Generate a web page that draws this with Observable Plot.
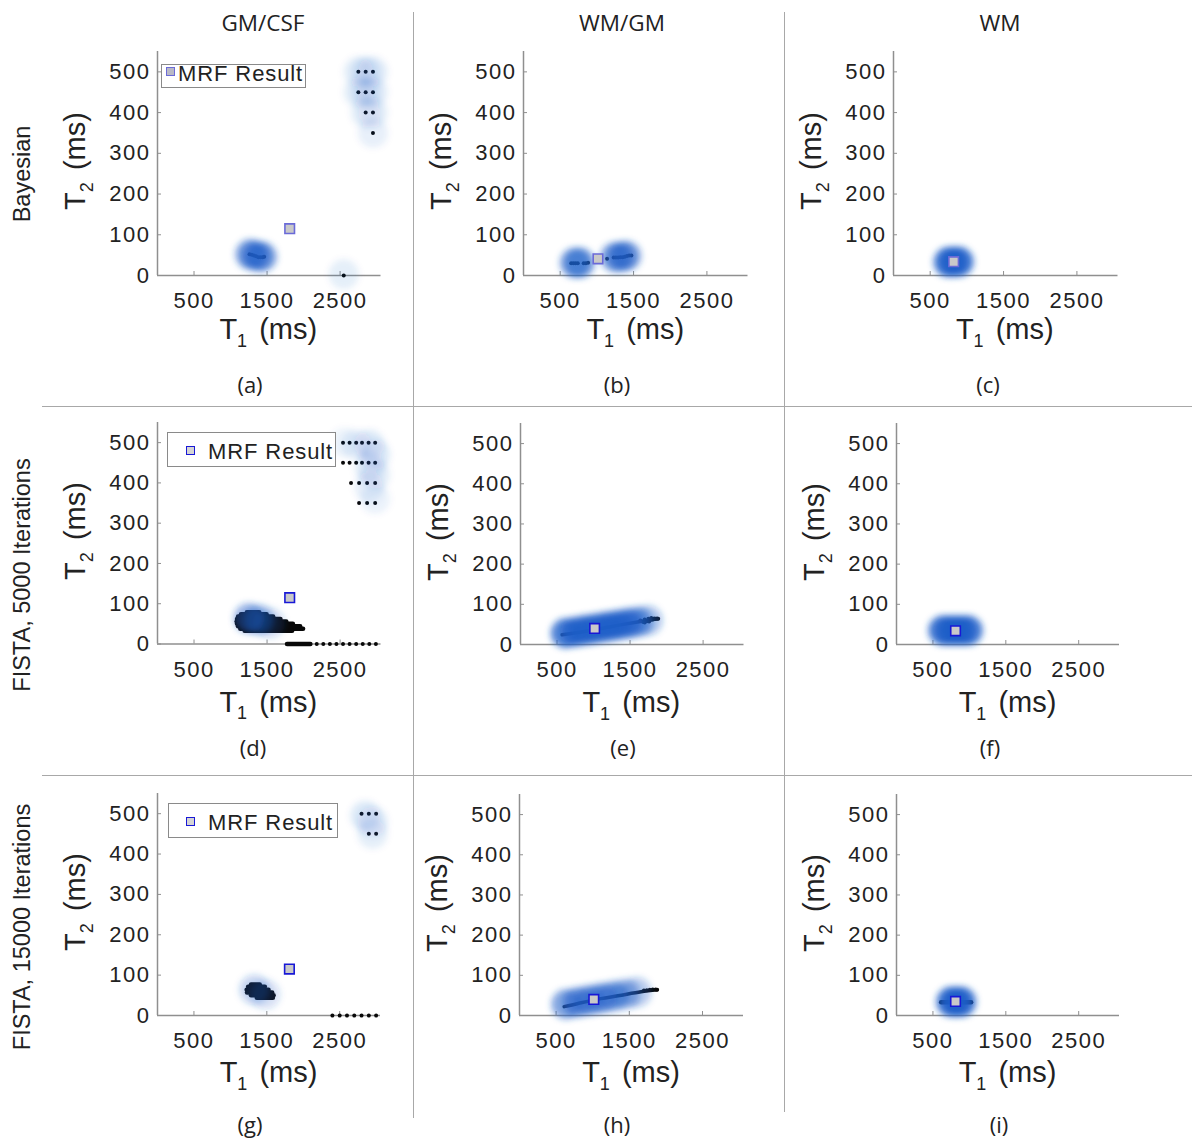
<!DOCTYPE html>
<html>
<head>
<meta charset="utf-8">
<script src="https://cdn.jsdelivr.net/npm/d3@7"></script>
<script src="https://cdn.jsdelivr.net/npm/@observablehq/plot@0.6"></script>
<style>
  body { margin: 0; background: #fff; }
  #fig { position: relative; width: 1192px; height: 1138px; overflow: hidden; background: #fff;
         font-family: "Liberation Sans", Arial, sans-serif; color: #222; }
  .abs { position: absolute; white-space: nowrap; }
  .sep { position: absolute; background: #a8a8a8; }
  .sub { font-size: 0.62em; position: relative; top: 0.42em; margin-right: 4px; }
  .legend { position: absolute; background: #fff; border: 1px solid #8a8a8a; box-sizing: border-box; }
  .lmark { position: absolute; box-sizing: border-box; background: #cfcfcf; }
</style>
</head>
<body>
<div id="fig"></div>
<script>
// ---------------- data ----------------
const xTicks = [500, 1500, 2500];
const yTicks = [0, 100, 200, 300, 400, 500];
const t1Domain = [0, 3060];
const t2Domain = [0, 550];
const columnTitles = ["GM/CSF", "WM/GM", "WM"];
const rowTitles = ["Bayesian", "FISTA, 5000 Iterations", "FISTA, 15000 Iterations"];
const panelLetters = ["(a)", "(b)", "(c)", "(d)", "(e)", "(f)", "(g)", "(h)", "(i)"];
const legendLabel = "MRF Result";
const xLabel = ["T", "1", "(ms)"];
const yLabel = ["T", "2", "(ms)"];

// (a) Bayesian, GM/CSF
const dotsA = [[1260,52],[1290,51],[1320,49],[1350,47],[1380,45],[1410,45],[1440,45],[1460,46],
  [2550,0],[2750,500],[2850,500],[2950,500],[2750,450],[2850,450],[2950,450],[2850,400],[2950,400],[2950,350]];
const haloA = [[1270,52,0.55],[1350,48,0.6],[1430,46,0.55],[2550,3,0.1],
  [2750,500,0.1],[2850,500,0.11],[2950,500,0.11],[2750,450,0.1],[2850,450,0.11],[2950,450,0.11],
  [2850,400,0.1],[2950,400,0.1],[2950,350,0.09]];
const mrfA = [1810, 115];

// (b) Bayesian, WM/GM
const dotsB = [[650,30],[680,30],[710,30],[740,30],[820,30],[850,30],[880,31],[1140,41],
  [1230,44],[1260,44],[1290,44],[1320,45],[1350,45],[1380,46],[1410,48],[1440,49],[1470,49]];
const haloB = [[700,31,0.55],[770,31,0.55],[1250,45,0.52],[1330,46,0.55],[1400,48,0.52]];
const mrfB = [1015, 41];

// (c) Bayesian, WM
const dotsC = [[800,34],[840,34]];
const haloC = [[750,33,0.75],[820,34,0.8],[890,34,0.75]];
const mrfC = [820, 34];

// (d) FISTA 5000, GM/CSF   bands: [T2, T1 from, T1 to]
const bandsD = [[79,1230,1400],[74,1150,1500],[68,1110,1590],[62,1095,1690],[56,1090,1770],
  [50,1095,1860],[44,1110,1960],[38,1140,2000],[33,1200,1850],[0,1780,2100]];
const dotsD = [[2540,500],[2630,500],[2720,500],[2800,500],[2890,500],[2980,500],
  [2540,450],[2630,450],[2720,450],[2800,450],[2890,450],[2980,450],
  [2650,400],[2760,400],[2870,400],[2980,400],[2760,350],[2870,350],[2980,350],
  [2180,0],[2270,0],[2360,0],[2450,0],[2540,0],[2630,0],[2720,0],[2810,0],[2900,0],[2990,0]];
const haloD = [[1250,64,0.45],[1390,60,0.38],[1540,52,0.2],[2560,500,0.07],[2720,495,0.09],
  [2900,495,0.13],[2980,470,0.13],[2900,440,0.11],[2980,420,0.1],[2900,390,0.09],[2980,360,0.08]];
const mrfD = [1810, 115];

// (e) FISTA 5000, WM/GM
const lineE = [[570,24],[900,33],[1250,45],[1600,56],[1880,64]];
const dotsE = [[1640,60],[1680,56],[1700,62],[1730,58],[1750,64],[1770,60],[1790,66],[1810,62],
  [1830,65],[1850,64],[1870,65],[1885,64],[1700,55],[1760,57]];
const haloE = [[620,28,0.75],[760,32,0.8],[900,36,0.8],[1040,40,0.8],[1180,44,0.8],
  [1320,48,0.8],[1460,52,0.75],[1600,56,0.6],[1740,60,0.35]];
const mrfE = [1015, 40];

// (f) FISTA 5000, WM
const dotsF = [[760,34],[800,34],[850,34]];
const haloF = [[640,35,0.75],[725,35,0.8],[810,35,0.8],[895,35,0.8],[980,35,0.75]];
const mrfF = [810, 34];

// (g) FISTA 15000, GM/CSF
const bandsG = [[77,1290,1410],[71,1250,1480],[64,1230,1530],[57,1235,1580],[50,1290,1600],[44,1370,1590]];
const dotsG = [[2400,0],[2500,0],[2600,0],[2700,0],[2800,0],[2900,0],[3000,0],
  [2800,500],[2900,500],[3000,500],[2900,450],[3000,450]];
const haloG = [[1330,64,0.25],[1480,52,0.18],[2850,495,0.13],[2950,480,0.13],[2950,450,0.1]];
const mrfG = [1810, 115];

// (h) FISTA 15000, WM/GM
const lineH = [[610,22],[800,30],[1110,42],[1345,49],[1660,59],[1880,64]];
const dotsH = [[1700,62],[1740,63],[1780,64],[1820,65],[1860,65],[1880,64]];
const haloH = [[640,28,0.55],[800,33,0.6],[960,38,0.6],[1120,43,0.6],[1280,48,0.55],[1440,53,0.45],[1600,58,0.3]];
const mrfH = [1015, 40];

// (i) FISTA 15000, WM
const bandsI = [[33,620,1030]];
const haloI = [[750,34,0.75],[820,34,0.8],[890,34,0.75]];
const mrfI = [810, 35];

// ---------------- layout / style ----------------
const HALO = "#1e5ec8";
const AXIS = "#8f8f8f";
const fig = document.getElementById("fig");

const panels = [
  {L:156.5,R:380,T:51,B:275, dots:dotsA, halo:haloA, mrf:mrfA, row:0},
  {L:523,R:747.5,T:51,B:275, dots:dotsB, halo:haloB, mrf:mrfB, row:0},
  {L:892.5,R:1117,T:51,B:275, dots:dotsC, halo:haloC, mrf:mrfC, row:0},
  {L:156.5,R:380,T:422,B:643.5, bands:bandsD, dots:dotsD, halo:haloD, mrf:mrfD, row:1},
  {L:519.5,R:743,T:423,B:644, line:lineE, dots:dotsE, halo:haloE, mrf:mrfE, row:1},
  {L:896,R:1119,T:423,B:644, dots:dotsF, halo:haloF, mrf:mrfF, row:1},
  {L:157,R:380,T:793,B:1015, bands:bandsG, dots:dotsG, halo:haloG, mrf:mrfG, row:2},
  {L:519,R:743,T:794,B:1015, line:lineH, dots:dotsH, halo:haloH, mrf:mrfH, row:2},
  {L:896,R:1119,T:794,B:1015, bands:bandsI, halo:haloI, mrf:mrfI, row:2}
];

function sep(l, t, w, h) {
  const d = document.createElement("div");
  d.className = "sep";
  Object.assign(d.style, {left: l + "px", top: t + "px", width: w + "px", height: h + "px"});
  fig.appendChild(d);
}
sep(42, 405.5, 1150, 1.5);
sep(42, 774.5, 1150, 1.5);
sep(412.5, 12, 1.5, 1106);
sep(783.5, 12, 1.5, 1100);

function txt(html, x, y, css, rot) {
  const d = document.createElement("div");
  d.className = "abs";
  d.innerHTML = html;
  Object.assign(d.style, {left: x + "px", top: y + "px",
    transform: "translate(-50%,-50%)" + (rot ? " rotate(-90deg)" : "")}, css);
  fig.appendChild(d);
  return d;
}

const mrfStroke = ["#6a6ad8", "#1818d6", "#1818d6"];
const xLabelDy = [56, 60, 59];
const fmt = d => String(d);

panels.forEach((p, k) => {
  const ml = 72, mt = 16, mr = 30, mb = 50;
  const w = p.R - p.L, h = p.B - p.T;
  const X = d => d[0], Y = d => d[1];
  const marks = [
    Plot.ruleX([0], {stroke: AXIS, strokeWidth: 1.5}),
    Plot.ruleY([0], {stroke: AXIS, strokeWidth: 1.5}),
    Plot.axisX(xTicks, {anchor: "bottom", tickSize: 4, dy: -4, tickFormat: () => "", stroke: AXIS, label: null}),
    Plot.axisY(yTicks, {anchor: "left", tickSize: 4, dx: 4, tickFormat: () => "", stroke: AXIS, label: null}),
    Plot.axisX(xTicks, {anchor: "bottom", tickSize: 0, tickPadding: 17, tickFormat: fmt, label: null}),
    Plot.axisY(yTicks, {anchor: "left", tickSize: 0, tickPadding: 7, tickFormat: fmt, label: null})
  ];
  if (p.bands) marks.push(Plot.ruleY(p.bands, {y: d => d[0], x1: d => d[1], x2: d => d[2],
    stroke: "#080808", strokeWidth: 4.5, strokeLinecap: "round"}));
  if (p.line) marks.push(Plot.line(p.line, {x: X, y: Y, stroke: "#0a0a0a", strokeWidth: 3.5,
    curve: "catmull-rom", strokeLinecap: "round"}));
  if (p.dots) marks.push(Plot.dot(p.dots, {x: X, y: Y, r: 2, fill: "#080808"}));
  marks.push(Plot.dot(p.halo, {x: X, y: Y, r: 15, fill: HALO, fillOpacity: d => d[2]}));
  marks.push(Plot.dot([p.mrf], {x: X, y: Y, symbol: "square", r: 5.4, fill: "#c9c9c9",
    stroke: mrfStroke[p.row], strokeWidth: 1.6}));

  const svg = Plot.plot({
    width: w + ml + mr, height: h + mt + mb,
    marginLeft: ml, marginRight: mr, marginTop: mt, marginBottom: mb,
    x: {domain: t1Domain, label: null},
    y: {domain: t2Domain, label: null},
    opacity: {type: "identity"},
    style: {fontFamily: "'Liberation Sans', Arial, sans-serif", fontSize: "22px", color: "#222",
            letterSpacing: "1.5px", overflow: "visible", background: "transparent"},
    marks
  });
  Object.assign(svg.style, {position: "absolute", left: (p.L - ml) + "px", top: (p.T - mt) + "px"});
  const s = d3.select(svg);
  const id = "blur" + k;
  s.insert("defs", ":first-child").append("filter").attr("id", id)
    .attr("filterUnits", "userSpaceOnUse").attr("x", -400).attr("y", -400)
    .attr("width", 1400).attr("height", 1400)
    .append("feGaussianBlur").attr("stdDeviation", 3);
  s.selectAll("g").filter(function () { return this.getAttribute("fill") === HALO; })
    .attr("filter", `url(#${id})`);
  fig.appendChild(svg);

  // axis labels
  const axCss = {fontSize: "29px", lineHeight: "29px", color: "#222"};
  txt(`${xLabel[0]}<span class="sub">${xLabel[1]}</span>&nbsp;${xLabel[2]}`,
      (p.L + p.R) / 2, p.B + xLabelDy[p.row], axCss);
  txt(`${yLabel[0]}<span class="sub">${yLabel[1]}</span>&nbsp;${yLabel[2]}`,
      p.L - 80, (p.T + p.B) / 2 - 2, axCss, true);
});

// column titles
const colX = [263, 622, 1000];
columnTitles.forEach((t, i) => txt(t, colX[i], 23,
  {fontFamily: "'Open Sans', sans-serif", fontSize: "22.5px", lineHeight: "22.5px", color: "#222"}));

// row titles
const rowY = [174, 575, 927];
rowTitles.forEach((t, i) => txt(t, 23, rowY[i],
  {fontSize: "23.5px", lineHeight: "23.5px", color: "#222"}, true));

// panel letters
const letterPos = [[250,384],[617,384],[988,384],[253,747],[623,747],[990,747],[250,1124],[617,1124],[999,1124]];
panelLetters.forEach((t, i) => txt(t, letterPos[i][0], letterPos[i][1],
  {fontFamily: "'Open Sans', sans-serif", fontSize: "22px", lineHeight: "22px", color: "#222"}));

// legends
function legend(box, mark, textX, textY, stroke, fill) {
  const b = document.createElement("div");
  b.className = "legend";
  Object.assign(b.style, {left: box[0] + "px", top: box[1] + "px", width: box[2] + "px", height: box[3] + "px"});
  fig.appendChild(b);
  const m = document.createElement("div");
  m.className = "lmark";
  Object.assign(m.style, {left: (mark[0] - 4.5) + "px", top: (mark[1] - 4.5) + "px", width: "9px", height: "9px",
    border: `1.6px solid ${stroke}`, background: fill});
  fig.appendChild(m);
  const t = document.createElement("div");
  t.className = "abs";
  t.textContent = legendLabel;
  Object.assign(t.style, {left: textX + "px", top: textY + "px", transform: "translate(0,-50%)",
    fontSize: "22px", lineHeight: "22px", letterSpacing: "0.9px", color: "#222"});
  fig.appendChild(t);
}
legend([160.5, 64, 145, 24], [170.5, 71.5], 178, 73.5, "#6a6ad8", "#b9b9c6");
legend([166.5, 432, 169, 35], [190, 450], 208, 451.5, "#1818d6", "#d4d4d4");
legend([167.5, 803, 170, 35], [190.5, 821.5], 208, 822.5, "#1818d6", "#d4d4d4");
</script>
</body>
</html>
